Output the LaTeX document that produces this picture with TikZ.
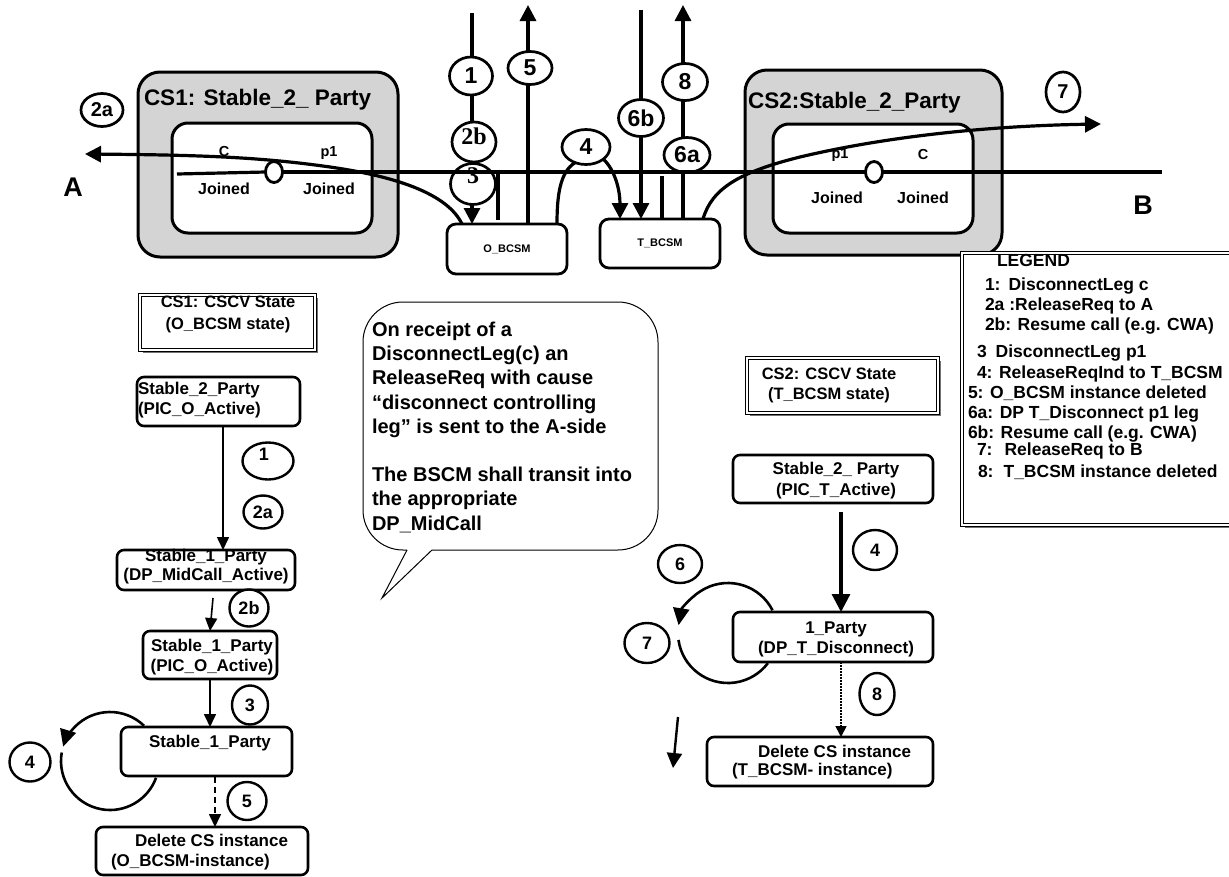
\documentclass[tikz,border=0pt]{standalone}
\usepackage{fontspec}
\setmainfont{Liberation Sans}
\newfontfamily\numserif{Liberation Serif}
\usetikzlibrary{arrows.meta,calc,shapes.geometric,shadows}
\definecolor{csgray}{RGB}{212,212,212}
\newcommand\fsb[2]{\fontsize{#1}{#2}\selectfont\bfseries}

\begin{document}
\begin{tikzpicture}[x=1pt,y=-1pt,
  every node/.style={inner sep=0pt,outer sep=0pt},
  csbox/.style={draw,line width=3pt,rounded corners=22pt,fill=csgray},
  csinner/.style={draw,line width=3pt,rounded corners=16pt,fill=white},
  cstitle/.style={font=\fsb{22.5}{24}},
  leglbl/.style={font=\fsb{14.5}{16}},
  joinlbl/.style={font=\fsb{16}{18}},
  jdot/.style={draw,ellipse,line width=2.8pt,fill=white,minimum width=17pt,minimum height=21pt},
  bcsm/.style={draw,line width=2.8pt,rounded corners=9pt,fill=white,minimum width=120pt,font=\fsb{11}{13}},
  statebox/.style={draw,line width=2.6pt,rounded corners=7pt,fill=white},
  statetext/.style={font=\fsb{17}{20}},
  shadowframe/.style={draw,line width=1.2pt,double=white,double distance=1.4pt,fill=white,
     drop shadow={shadow xshift=3pt,shadow yshift=-3pt,fill=black!55,opacity=1}},
  num/.style={draw,ellipse,fill=white},
  topnum/.style={num,line width=2.7pt,font=\fsb{23}{23}},
  lownum/.style={num,line width=2.4pt,font=\fsb{18}{18}},
  heavy/.style={line width=3.2pt},
  bigtip/.style={-{Triangle[length=16pt,width=16pt]}},
  flow/.style={line width=1.6pt,-{Triangle[length=13pt,width=12pt]}},
  looptip/.style={-{Triangle[length=17pt,width=16pt]}},
  legtext/.style={font=\fsb{17.5}{20},anchor=base west},
]
\useasboundingbox (0,0) rectangle (1229,876);

% ---------- call segments CS1 and CS2
\node[csbox,minimum width=260pt,minimum height=185pt] (cs1) at (268,164.5) {};
\node[csinner,minimum width=200pt,minimum height=110pt] (cs1in) at (272,178) {};
\node[cstitle,anchor=base west] (cs1title) at (144,105) {CS1: Stable\_2\_ Party};
\node[csbox,minimum width=257pt,minimum height=185pt] (cs2) at (873.5,162.5) {};
\node[csinner,minimum width=200pt,minimum height=109pt] (cs2in) at (873,178.5) {};
\node[cstitle,anchor=base west] (cs2title) at (748,108) {CS2:Stable\_2\_Party};

% ---------- BCSM instances
\node[bcsm,minimum height=50pt] (obcsm) at (507,249) {O\_BCSM};
\node[bcsm,minimum height=49pt] (tbcsm) at (660,243.5) {T\_BCSM};

% ---------- vertical signalling lines
\coordinate (top1) at (472,13);
\coordinate (top5) at (528,5);
\coordinate (top6b) at (641,10);
\coordinate (top8) at (683,5);
\coordinate (stubO) at (498,170);
\coordinate (stubT) at (662,176);
\draw[heavy,bigtip] (top1) -- (top1 |- obcsm.north);
\draw[heavy,bigtip] (top5 |- obcsm.north) -- (top5);
\draw[heavy,bigtip] (top6b) -- (top6b |- tbcsm.north);
\draw[heavy,bigtip] (top8 |- tbcsm.north) -- (top8);
\draw[heavy] (stubO) -- ++(0,50);
\draw[heavy] (stubT) -- ++(0,43);

% ---------- numbered events on the signalling lines
\node[topnum,minimum width=43pt,minimum height=38pt] (t1) at (471,76) {1};
\node[topnum,minimum width=44pt,minimum height=40pt,font=\numserif\fsb{24}{24}] (t2b) at (474,142) {\raisebox{-2.6pt}[0pt][0pt]{2b}};
\node[topnum,minimum width=45pt,minimum height=41pt,font=\numserif\fsb{24}{24}] (t3) at (473,184) {\raisebox{0.7pt}[0pt][0pt]{3}};
\node[topnum,minimum width=44pt,minimum height=33pt] (t5) at (530,68) {5};
\node[topnum,minimum width=48pt,minimum height=35pt] (t4) at (586,147) {4};
\node[topnum,minimum width=45pt,minimum height=37pt] (t6b) at (641,118) {6b};
\node[topnum,minimum width=45pt,minimum height=37pt] (t8) at (685,82) {8};
\node[topnum,minimum width=46pt,minimum height=35pt] (t6a) at (687,155) {6a};
\node[topnum,minimum width=42pt,minimum height=33pt,font=\fsb{20}{20}] (t2a) at (102,110) {2a};
\node[topnum,minimum width=34pt,minimum height=40pt,font=\fsb{20}{20}] (t7) at (1063,92) {7};

% ---------- the call line A -- B with the two leg junctions
\node[jdot] (cs1dot) at (274,172) {};
\node[jdot] (cs2dot) at (874,172) {};
\coordinate (jleft) at (177,174);
\coordinate (Bend) at (1162,172);
\draw[heavy] (jleft) -- (cs1dot.west);
\draw[heavy] (cs1dot.east) -- (cs2dot.west);
\draw[heavy] (cs2dot.east) -- (Bend);

% release towards A and B, ReleaseReqInd O_BCSM -> T_BCSM
\coordinate (Atip) at (85,154);
\coordinate (Btip) at (1101,124);
\draw[heavy,bigtip] ($(obcsm.north west)+(15,0)$) .. controls (448,195) and (400,177) .. (330,167)
   .. controls (260,157) and (200,155) .. (Atip);
\draw[heavy,bigtip] ($(tbcsm.north east)+(-17,0)$) .. controls (712,188) and (740,172) .. (800,157)
   .. controls (880,138) and (980,126) .. (Btip);
\draw[heavy] ($(obcsm.north east)+(-10,0)$) .. controls (557,195) and (560,172) .. (t4.235);
\draw[heavy,bigtip] (t4.-35) .. controls (615,170) and (620,190) .. ($(tbcsm.north west)+(20,0)$);

% leg labels
\node[leglbl] (cs1c) at (224,152) {C};
\node[leglbl] (cs1p) at (329,153) {p1};
\node[joinlbl] (cs1jl) at (224,189) {Joined};
\node[joinlbl] (cs1jr) at (329,189) {Joined};
\node[leglbl] (cs2p) at (840,155) {p1};
\node[leglbl] (cs2c) at (923,155) {C};
\node[joinlbl] (cs2jl) at (837,198) {Joined};
\node[joinlbl] (cs2jr) at (923,198) {Joined};
\node[font=\fsb{27}{27}] (sideA) at (73,187) {A};
\node[font=\fsb{27}{27}] (sideB) at (1143,205) {B};

% ---------- CS1 state machine
\node[shadowframe,minimum width=175pt,minimum height=55pt] (cscv1) at (227.5,322.5) {};
\node[font=\fsb{16.5}{22},align=center] (cscv1t) at (228,314) {CS1: CSCV State\\(O\_BCSM state)};

\coordinate (lloop) at (110,761);
\draw[line width=2.6pt,looptip] ($(lloop)+(-46:49)$) arc[start angle=-46,end angle=-163,radius=49];
\draw[line width=2.6pt] ($(lloop)+(-170:49)$) arc[start angle=-170,end angle=-340,radius=49];

\node[statebox,minimum width=163pt,minimum height=49pt] (s2p) at (218.5,401.5) {};
\node[statetext,align=left,anchor=west] (s2pt) at (138,400) {Stable\_2\_Party\\(PIC\_O\_Active)};
\node[statebox,minimum width=178pt,minimum height=40pt] (s1pa) at (206,570) {};
\node[font=\fsb{17}{19},align=center] (s1pat) at (206,567) {Stable\_1\_Party\\(DP\_MidCall\_Active)};
\node[statebox,minimum width=134pt,minimum height=48pt] (s1pb) at (210,655) {};
\node[statetext,align=center] (s1pbt) at (212,657) {Stable\_1\_Party\\(PIC\_O\_Active)};
\node[statebox,minimum width=171pt,minimum height=49pt] (s1pc) at (206.5,751.5) {};
\node[statetext] (s1pct) at (210,743) {Stable\_1\_Party};
\node[statebox,minimum width=212pt,minimum height=48pt] (del1) at (202,851) {};
\node[statetext,align=left,anchor=west] (del1t) at (111,852) {\hspace*{24pt}Delete CS instance\\(O\_BCSM-instance)};

\coordinate (a1top) at (223,426);
\draw[flow] (a1top) -- (a1top |- s1pa.north);
\coordinate (a2btop) at (213,598);
\draw[flow] (a2btop) -- (s1pb.north);
\draw[flow] (s1pb.south) -- (s1pb.south |- s1pc.north);
\coordinate (a5top) at (215,777);
\draw[flow,dash pattern=on 6pt off 4pt] (a5top) -- (a5top |- del1.north);

\node[lownum,minimum width=51pt,minimum height=37pt] (l1) at (268,461) {\raisebox{0.8pt}[0pt][0pt]{\hspace*{-8pt}1}};
\node[lownum,minimum width=39pt,minimum height=33pt] (l2a) at (263,512) {2a};
\node[lownum,minimum width=39pt,minimum height=37pt] (l2b) at (249,608) {2b};
\node[lownum,minimum width=36pt,minimum height=39pt] (l3) at (250,705) {3};
\node[lownum,minimum width=41pt,minimum height=39pt] (l4) at (30,762) {4};
\node[lownum,minimum width=39pt,minimum height=38pt] (l5) at (247,801) {5};

% ---------- explanatory call-out
\draw[line width=1pt,rounded corners=40pt] (407,550) -- (363,550) -- (363,302) -- (658,302) -- (658,550) -- (432,550);
\draw[line width=1pt] (407,550) -- (382,598) -- (432,550);
\node[font=\fsb{20}{24.2},align=left,anchor=north west] (bubblet) at (372,322)
  {On receipt of a\\
   DisconnectLeg(c) an\\
   ReleaseReq with cause\\
   “disconnect controlling\\
   leg” is sent to the A-side\\[24.2pt]
   The BSCM shall transit into\\
   the appropriate\\
   DP\_MidCall};

% ---------- CS2 state machine
\node[shadowframe,minimum width=191pt,minimum height=55pt] (cscv2) at (842.5,385.5) {};
\node[font=\fsb{16.5}{20},align=center] (cscv2t) at (829,385) {CS2: CSCV State\\(T\_BCSM state)};

\coordinate (rloop) at (728,633);
\draw[line width=2.6pt,looptip] ($(rloop)+(-27:50)$) arc[start angle=-27,end angle=-171,radius=50];
\draw[line width=2.6pt] ($(rloop)+(-188:50)$) arc[start angle=-188,end angle=-323,radius=50];

\node[statebox,minimum width=200pt,minimum height=48pt] (s2t) at (833,479) {};
\node[font=\fsb{17}{21},align=center] (s2tt) at (836,481) {Stable\_2\_ Party\\(PIC\_T\_Active)};
\node[statebox,minimum width=200pt,minimum height=50pt] (p1t) at (833,637) {};
\node[statetext,align=center] (p1tt) at (836,639) {1\_Party\\(DP\_T\_Disconnect)};
\node[statebox,minimum width=226pt,minimum height=49pt] (del2) at (820,761.5) {};
\node[font=\fsb{17}{18.5},align=left,anchor=west] (del2t) at (732,762) {\hspace*{26pt}Delete CS instance\\(T\_BCSM- instance)};

\coordinate (a4top) at (841,512);
\draw[heavy,-{Triangle[length=18pt,width=18pt]}] (a4top) -- (a4top |- p1t.north);
\draw[line width=1.6pt,dash pattern=on 1.5pt off 1.5pt,-{Triangle[length=11pt,width=11pt]}] (a4top |- p1t.south) -- (a4top |- del2.north);
\coordinate (sa1) at (678,717);
\coordinate (sa2) at (673,768);
\draw[line width=2.4pt,-{Triangle[length=15pt,width=15pt]}] (sa1) -- (sa2);

\node[lownum,minimum width=44pt,minimum height=40pt] (r4) at (875,550) {4};
\node[lownum,minimum width=44pt,minimum height=38pt] (r6) at (680,564) {6};
\node[lownum,minimum width=45pt,minimum height=40pt] (r7) at (647,643) {7};
\node[lownum,minimum width=35pt,minimum height=42pt] (r8) at (877,694) {8};

% ---------- legend
\node[shadowframe,minimum width=280pt,minimum height=272pt,anchor=north west] (legend) at (962,253) {};
\node[legtext] (lg0) at (997,266) {LEGEND};
\node[legtext] (lg1) at (985,290) {1:\hspace{8pt}DisconnectLeg c};
\node[legtext] (lg2) at (985,310) {2a :ReleaseReq to A};
\node[legtext] (lg3) at (985,330) {2b: Resume call (e.g. CWA)};
\node[legtext] (lg4) at (977,357) {3\hspace{9pt}DisconnectLeg p1};
\node[legtext] (lg5) at (977,378) {4: ReleaseReqInd to T\_BCSM};
\node[legtext] (lg6) at (968,398) {5: O\_BCSM instance deleted};
\node[legtext] (lg7) at (968,418) {6a: DP T\_Disconnect p1 leg};
\node[legtext] (lg8) at (968,438) {6b: Resume call (e.g. CWA)};
\node[legtext] (lg9) at (977,455) {7:\hspace{12pt}ReleaseReq to B};
\node[legtext] (lg10) at (978,477) {8:\hspace{10pt}T\_BCSM instance deleted};
\end{tikzpicture}
\end{document}
